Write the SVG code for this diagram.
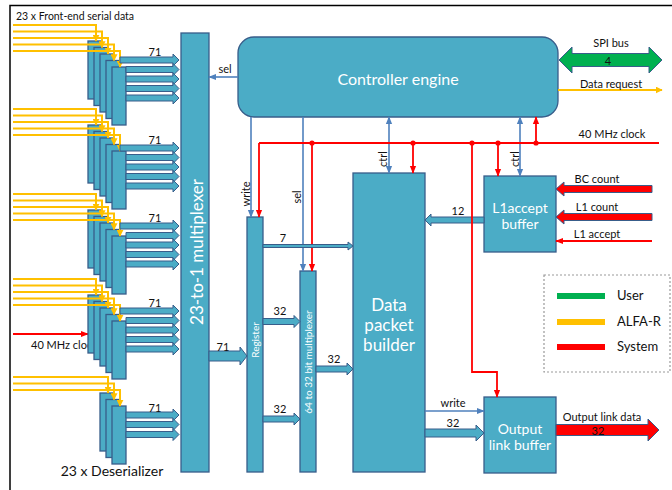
<svg xmlns="http://www.w3.org/2000/svg" xmlns:xlink="http://www.w3.org/1999/xlink" width="672" height="490" viewBox="0 0 672 490">
<style>
text{font-family:Lato,"Open Sans","Liberation Sans",sans-serif;fill:#111}
.blk{fill:#4BACC6;stroke:#385D8A;stroke-width:1.3}
.ba{fill:#4BACC6;stroke:#385D8A;stroke-width:1}
.wt{fill:#fff}
.yl{fill:none;stroke:#FFC000;stroke-width:2}
.bl{fill:none;stroke:#4F81BD;stroke-width:1.6}
.rd{fill:none;stroke:#FF0000;stroke-width:1.8}
.lbl{font-size:11px}
.c{text-anchor:middle;dominant-baseline:central}
</style>
<defs>
<marker id="my" viewBox="0 0 10 10" refX="9" refY="5" markerWidth="7" markerHeight="7" markerUnits="userSpaceOnUse" orient="auto"><path d="M0,0 L10,5 L0,10 z" fill="#FFC000"/></marker>
<marker id="mb" viewBox="0 0 10 10" refX="9" refY="5" markerWidth="8" markerHeight="8" markerUnits="userSpaceOnUse" orient="auto-start-reverse"><path d="M0,1 L10,5 L0,9 z" fill="#4F81BD"/></marker>
<marker id="mr" viewBox="0 0 10 10" refX="9" refY="5" markerWidth="8" markerHeight="8" markerUnits="userSpaceOnUse" orient="auto"><path d="M0,1 L10,5 L0,9 z" fill="#FF0000"/></marker>
<g id="blk5">
<rect class="blk" x="88" y="41" width="14" height="58"/>
<rect class="blk" x="94" y="47.5" width="14" height="58"/>
<rect class="blk" x="100" y="54" width="14" height="58"/>
<rect class="blk" x="106" y="60.5" width="14" height="58"/>
<rect class="blk" x="112" y="67" width="14" height="58"/>
<path class="yl" marker-end="url(#my)" d="M13,25 H96 V41"/>
<path class="yl" marker-end="url(#my)" d="M13,31.5 H102 V47.5"/>
<path class="yl" marker-end="url(#my)" d="M13,38 H108 V54"/>
<path class="yl" marker-end="url(#my)" d="M13,44.5 H114 V60.5"/>
<path class="yl" marker-end="url(#my)" d="M13,51 H120 V67"/>
</g>
<g id="arr5">
<path class="ba" d="M120,57 H173 V54 L179,60 L173,66 V63 H120 Z"/>
<path class="ba" d="M126,66.5 H173 V63.5 L179,69.5 L173,75.5 V72.5 H126 Z"/>
<path class="ba" d="M126,76 H173 V73 L179,79 L173,85 V82 H126 Z"/>
<path class="ba" d="M126,85.5 H173 V82.5 L179,88.5 L173,94.5 V91.5 H126 Z"/>
<path class="ba" d="M126,95 H173 V92 L179,98 L173,104 V101 H126 Z"/>
<text class="lbl c" x="155" y="51">71</text>
</g>
</defs>

<path d="M10,490 V5.5 H672" fill="none" stroke="#000" stroke-width="1.5"/>
<text x="16" y="20" style="font-size:10.5px">23 x Front-end serial data</text>

<g id="deserializer1"><use xlink:href="#blk5"/><use xlink:href="#arr5"/></g>
<g id="deserializer2"><use xlink:href="#blk5" transform="translate(0,84)"/><use xlink:href="#arr5" transform="translate(0,88)"/></g>
<g id="deserializer3"><use xlink:href="#blk5" transform="translate(0,169)"/><use xlink:href="#arr5" transform="translate(0,166)"/></g>
<g id="deserializer4">
<text class="lbl" x="31" y="349">40 MHz clock</text>
<path class="rd" marker-end="url(#mr)" d="M13,334 H88"/>
<use xlink:href="#blk5" transform="translate(0,254)"/><use xlink:href="#arr5" transform="translate(0,251)"/>
</g>
<g id="deserializer5">
<rect class="blk" x="100" y="393" width="14" height="58"/>
<rect class="blk" x="106" y="399.5" width="14" height="58"/>
<rect class="blk" x="112" y="406" width="14" height="58"/>
<path class="yl" marker-end="url(#my)" d="M13,377 H108 V393"/>
<path class="yl" marker-end="url(#my)" d="M13,383.5 H114 V399.5"/>
<path class="yl" marker-end="url(#my)" d="M13,390 H120 V406"/>
<path class="ba" d="M126,412 H173 V409 L179,415 L173,421 V418 H126 Z"/>
<path class="ba" d="M126,421.5 H173 V418.5 L179,424.5 L173,430.5 V427.5 H126 Z"/>
<path class="ba" d="M126,431.5 H173 V428.5 L179,434.5 L173,440.5 V437.5 H126 Z"/>
<text class="lbl c" x="155" y="407">71</text>
<text x="112" y="476" text-anchor="middle" style="font-size:14px">23 x Deserializer</text>
</g>

<g id="mux23">
<rect class="blk" x="181" y="33" width="28" height="439"/>
<text class="wt c" transform="translate(196,252) rotate(-90)" style="font-size:17px">23-to-1 multiplexer</text>
</g>
<g id="controller">
<rect class="blk" x="238" y="37" width="320" height="80" rx="16"/>
<text class="wt c" x="398" y="78" style="font-size:16px">Controller engine</text>
</g>
<g id="register">
<rect class="blk" x="247" y="217" width="16" height="255"/>
<text class="wt c" transform="translate(255,340) rotate(-90)" style="font-size:10px">Register</text>
</g>
<g id="mux64">
<rect class="blk" x="300" y="271" width="16" height="201"/>
<text class="wt c" transform="translate(308,362) rotate(-90)" style="font-size:10px">64 to 32 bit multiplexer</text>
</g>
<g id="builder">
<rect class="blk" x="353" y="173" width="72" height="299"/>
<text class="wt c" x="389" y="304" style="font-size:17px">Data</text>
<text class="wt c" x="389" y="324" style="font-size:17px">packet</text>
<text class="wt c" x="389" y="344" style="font-size:17px">builder</text>
</g>
<g id="l1buffer">
<rect class="blk" x="484" y="176" width="72" height="76"/>
<text class="wt c" x="520" y="207" style="font-size:14px">L1accept</text>
<text class="wt c" x="520" y="223" style="font-size:14px">buffer</text>
</g>
<g id="outbuffer">
<rect class="blk" x="484" y="397" width="72" height="76"/>
<text class="wt c" x="520" y="428" style="font-size:14px">Output</text>
<text class="wt c" x="520" y="444" style="font-size:14px">link buffer</text>
</g>
<g id="legend">
<rect x="544" y="275" width="126" height="97" fill="none" stroke="#999" stroke-width="1.2" stroke-dasharray="2,2"/>
<path d="M557,296 H605" stroke="#00B050" stroke-width="6"/>
<path d="M557,322 H605" stroke="#FFC000" stroke-width="6"/>
<path d="M557,347 H605" stroke="#FF0000" stroke-width="6"/>
<text x="617" y="300" style="font-size:13px">User</text>
<text x="617" y="326" style="font-size:13px">ALFA-R</text>
<text x="617" y="351" style="font-size:13px">System</text>
</g>

<g id="connectors">
<path class="bl" marker-end="url(#mb)" d="M238,77 H209"/>
<text class="lbl c" x="225" y="68">sel</text>
<path class="bl" marker-end="url(#mb)" d="M251,117 V217"/>
<text class="lbl c" transform="translate(245,194) rotate(-90)">write</text>
<path class="bl" marker-end="url(#mb)" d="M303,117 V271"/>
<text class="lbl c" transform="translate(296,197) rotate(-90)">sel</text>
<path class="bl" marker-start="url(#mb)" marker-end="url(#mb)" d="M389,117 V173"/>
<text class="lbl c" transform="translate(382,159) rotate(-90)">ctrl</text>
<path class="bl" marker-start="url(#mb)" marker-end="url(#mb)" d="M520,117 V176"/>
<text class="lbl c" transform="translate(514,159) rotate(-90)">ctrl</text>

<path class="rd" d="M659,143 H259"/>
<path class="rd" marker-end="url(#mr)" d="M259,143 V217"/>
<path class="rd" marker-end="url(#mr)" d="M312,143 V271"/>
<path class="rd" marker-end="url(#mr)" d="M413,143 V173"/>
<path class="rd" marker-end="url(#mr)" d="M498,143 V176"/>
<path class="rd" marker-end="url(#mr)" d="M536,143 V117"/>
<path class="ba" d="M484,217 H431 V214 L425,220 L431,226 V223 H484 Z"/>
<text class="lbl c" x="458" y="210">12</text>
<path class="rd" marker-end="url(#mr)" d="M472,143 V372 H497 V397"/>
<g fill="#FF0000"><circle cx="312" cy="143" r="2.6"/><circle cx="413" cy="143" r="2.6"/><circle cx="472" cy="143" r="2.6"/><circle cx="498" cy="143" r="2.6"/><circle cx="536" cy="143" r="2.6"/></g>
<text class="lbl c" x="612" y="133">40 MHz clock</text>

<path d="M559,60 L572,47 V53.5 H649 V47 L662,60 L649,73 V66.5 H572 V73 Z" fill="#00B050" stroke="#385D8A" stroke-width="1"/>
<text class="lbl c" x="611" y="42">SPI bus</text>
<text class="lbl c" x="608" y="60">4</text>
<path class="yl" marker-end="url(#my)" d="M558,90 H662"/>
<text class="lbl c" x="611" y="83">Data request</text>

<path d="M652,185.5 H564 V182 L556,189 L564,196 V192.5 H652 Z" fill="#FF0000" stroke="#385D8A" stroke-width="1"/>
<text class="lbl c" x="597" y="178">BC count</text>
<path d="M652,213.5 H564 V210 L556,217 L564,224 V220.5 H652 Z" fill="#FF0000" stroke="#385D8A" stroke-width="1"/>
<text class="lbl c" x="597" y="206">L1 count</text>
<path class="rd" marker-end="url(#mr)" d="M652,241 H556"/>
<text class="lbl c" x="597" y="233">L1 accept</text>

<path class="ba" d="M209,351 H240 V347 L247,356 L240,365 V361 H209 Z"/>
<text class="lbl c" x="223" y="346">71</text>
<path class="ba" d="M263,244.5 H348 V242 L353,246 L348,250 V247.5 H263 Z"/>
<text class="lbl c" x="283" y="237">7</text>
<path class="ba" d="M263,318.5 H294 V315.5 L300,321.5 L294,327.5 V324.5 H263 Z"/>
<text class="lbl c" x="280" y="310">32</text>
<path class="ba" d="M263,416 H294 V413 L300,419 L294,425 V422 H263 Z"/>
<text class="lbl c" x="280" y="408">32</text>
<path class="ba" d="M316,366 H347 V363 L353,369 L347,375 V372 H316 Z"/>
<text class="lbl c" x="334" y="358">32</text>
<path class="bl" marker-end="url(#mb)" d="M425,411 H484"/>
<text class="lbl c" x="453" y="402">write</text>
<path class="ba" d="M425,429 H476 V425 L484,433 L476,441 V437 H425 Z"/>
<text class="lbl c" x="453" y="422">32</text>
<path d="M556,424.5 H648 V419 L659,430 L648,441 V435.5 H556 Z" fill="#FF0000" stroke="#385D8A" stroke-width="1"/>
<text class="lbl c" x="602" y="416">Output link data</text>
<text class="lbl c" x="598" y="430">32</text>
</g>
</svg>
